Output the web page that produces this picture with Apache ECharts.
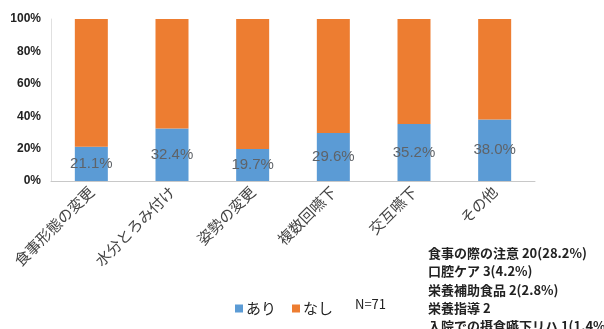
<!DOCTYPE html>
<html><head><meta charset="utf-8">
<script src="https://cdn.jsdelivr.net/npm/echarts@6/dist/echarts.min.js"></script>
<style>html,body{margin:0;padding:0;background:#fff}#c{width:604px;height:329px}</style>
</head><body><div id="c"></div>
<script>
const categories = ['食事形態の変更','水分とろみ付け','姿勢の変更','複数回嚥下','交互嚥下','その他'];
const ari = [21.1, 32.4, 19.7, 29.6, 35.2, 38.0];
const nashi = [78.9, 67.6, 80.3, 70.4, 64.8, 62.0];
const yTicks = [0, 20, 40, 60, 80, 100];
const notes = ['食事の際の注意 20(28.2%)','口腔ケア 3(4.2%)','栄養補助食品 2(2.8%)','栄養指導 2','入院での摂食嚥下リハ 1(1.4%)'];
const nText = 'N=71';
const font = '"Noto Sans CJK JP", sans-serif';
const chart = echarts.init(document.getElementById('c'));
chart.setOption({
  animation: false,
  grid: {left: 51, right: 69, top: 19, bottom: 148, containLabel: false},
  legend: {
    data: ['あり','なし'], left: 230, top: 296, itemWidth: 8, itemHeight: 8, itemGap: 16,
    icon: 'rect',
    textStyle: {fontFamily: font, fontSize: 15, color: '#222', padding: [0, 0, 0, -2]}
  },
  xAxis: {
    type: 'category', data: categories,
    axisLine: {lineStyle: {color: '#c8c8c8'}},
    axisTick: {show: false},
    axisLabel: {rotate: 45, fontFamily: font, fontSize: 15, color: '#444', margin: 8}
  },
  yAxis: {
    type: 'value', min: 0, max: 100, interval: 20,
    axisLine: {show: true, lineStyle: {color: '#e0e0e0'}},
    splitLine: {show: false},
    axisLabel: {formatter: v => yTicks.includes(v) ? v + '%' : '', fontFamily: 'Liberation Sans, Arial', fontWeight: 'bold', fontSize: 12, color: '#222', margin: 10}
  },
  series: [
    {name: 'あり', type: 'bar', stack: 's', data: ari, barWidth: 33, itemStyle: {color: '#5b9bd5'},
     label: {show: true, position: 'inside', formatter: p => p.value.toFixed(1) + '%', fontFamily: 'Liberation Sans, Arial', fontSize: 15, color: '#5f6368'}},
    {name: 'なし', type: 'bar', stack: 's', data: nashi, barWidth: 33, itemStyle: {color: '#ed7d31'}}
  ],
  graphic: [
    {type: 'text', left: 355, top: 298, style: {text: nText, fontFamily: font, fontSize: 13, fill: '#222'}},
    {type: 'text', left: 428, top: 244, style: {text: notes.join('\n'), fontFamily: font, fontSize: 13, lineHeight: 18.3, fontWeight: 'bold', fill: '#222'}}
  ]
});
</script></body></html>
